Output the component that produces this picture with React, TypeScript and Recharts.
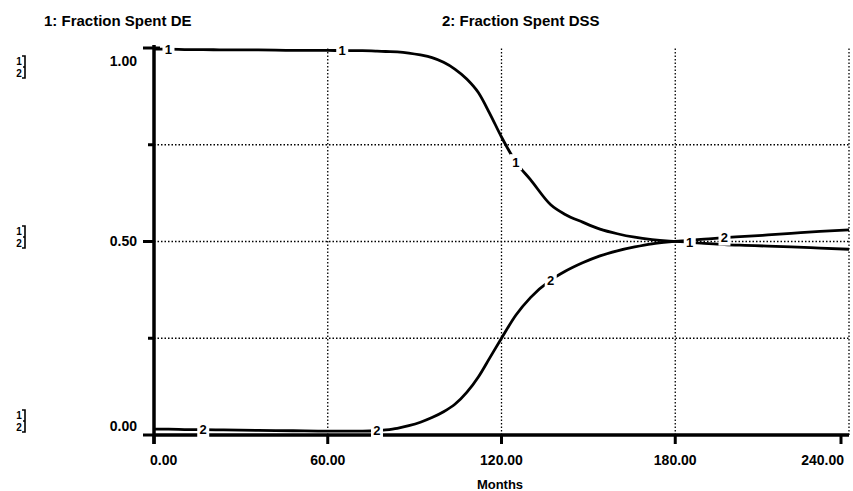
import React from 'react';
import { LineChart, Line, XAxis, YAxis, ReferenceLine } from 'recharts';

const months = [0, 5, 12, 17, 24, 36, 48, 60, 65, 72, 77, 80, 84, 88, 92, 96, 100, 104, 108, 112, 116, 120, 125, 130, 137, 142, 148, 154, 160, 166, 172, 178, 185, 190, 197, 204, 212, 220, 230, 240];
const fractionSpentDE = [0.997, 0.997, 0.996, 0.996, 0.995, 0.995, 0.994, 0.994, 0.993, 0.993, 0.992, 0.991, 0.99, 0.987, 0.982, 0.975, 0.963, 0.945, 0.92, 0.885, 0.83, 0.77, 0.705, 0.66, 0.595, 0.57, 0.55, 0.532, 0.52, 0.511, 0.505, 0.501, 0.498, 0.495, 0.492, 0.49, 0.488, 0.486, 0.483, 0.48];
const fractionSpentDSS = [0.015, 0.015, 0.014, 0.014, 0.013, 0.012, 0.011, 0.01, 0.01, 0.01, 0.011, 0.013, 0.017, 0.024, 0.033, 0.045, 0.06, 0.08, 0.11, 0.15, 0.2, 0.25, 0.31, 0.355, 0.4, 0.423, 0.445, 0.463, 0.476, 0.486, 0.494, 0.499, 0.503, 0.506, 0.51, 0.513, 0.517, 0.521, 0.526, 0.53];

const xTicks = [0, 60, 120, 180, 240];
const yTicks = [0, 0.25, 0.5, 0.75, 1];
const yLabelTicks = [0, 0.5, 1];
const gridX = [60, 120, 180, 240];
const gridY = [0.25, 0.5, 0.75];
const labelMonthsDE = [5, 65, 125, 185];
const labelMonthsDSS = [17, 77, 137, 197];
const seriesTitles = ['1: Fraction Spent DE', '2: Fraction Spent DSS'];
const seriesNumbers = ['1', '2'];
const xAxisTitle = 'Months';

const data = months.map((m, i) => ({ month: m, de: fractionSpentDE[i], dss: fractionSpentDSS[i] }));

const FONT = '"Liberation Sans", Arial, Helvetica, sans-serif';

const XTick = (props: any) => {
  const { x, y, payload } = props;
  const v = payload.value;
  const anchor = v === 0 ? 'start' : v === 240 ? 'end' : 'middle';
  const tx = v === 0 ? x - 4 : v === 240 ? x + 3 : x;
  return (
    <g>
      <line x1={x} x2={x} y1={y - 1} y2={y + 9} stroke="#000" strokeWidth={3} />
      <text x={tx} y={y + 30} textAnchor={anchor} fontFamily={FONT} fontWeight="bold" fontSize={14} fill="#000">
        {v.toFixed(2)}
      </text>
    </g>
  );
};

const YTick = (props: any) => {
  const { x, y, payload } = props;
  const v = payload.value;
  const major = yLabelTicks.includes(v);
  const labelDy = v === 1 ? 13 : v === 0 ? -9 : 0;
  return (
    <g>
      <line x1={major ? x - 11 : x - 6} x2={v === 1 ? x + 6 : x} y1={y} y2={y} stroke="#000" strokeWidth={3} />
      {v === 0 && <line x1={x} x2={x} y1={y} y2={y + 9} stroke="#000" strokeWidth={3.5} />}
      {v === 1 && <line x1={x} x2={x} y1={y - 3} y2={y} stroke="#000" strokeWidth={3.5} />}
      {major && (
        <text x={x - 17} y={y + labelDy} dy="0.35em" textAnchor="end" fontFamily={FONT} fontWeight="bold" fontSize={14} fill="#000">
          {v.toFixed(2)}
        </text>
      )}
    </g>
  );
};

const makeLabelDot = (labelMonths: number[], text: string) => (props: any) => {
  const { cx, cy, payload, index } = props;
  if (!labelMonths.includes(payload.month)) return <g key={`n-${text}-${index}`} />;
  return (
    <g key={`l-${text}-${index}`}>
      <rect x={cx - 6} y={cy - 8} width={12} height={16} fill="#fff" />
      <text x={cx} y={cy} dy="0.36em" textAnchor="middle" fontFamily={FONT} fontWeight="bold" fontSize={13} fill="#000">
        {text}
      </text>
    </g>
  );
};

const markerGroups = [61, 231, 415];

export default function App() {
  return (
    <div style={{ position: 'absolute', left: 0, top: 0, width: 853, height: 491, background: '#fff' }}>
      <LineChart width={853} height={491} data={data} margin={{ top: 48, right: 4, left: 0, bottom: 0 }}>
        <XAxis
          dataKey="month"
          type="number"
          domain={[0, 240]}
          ticks={xTicks}
          height={56}
          tickSize={0}
          tickMargin={0}
          tickLine={false}
          axisLine={{ stroke: '#000', strokeWidth: 3.5 }}
          tick={<XTick />}
        />
        <YAxis
          type="number"
          domain={[0, 1]}
          ticks={yTicks}
          width={154}
          tickSize={0}
          tickMargin={0}
          tickLine={false}
          axisLine={{ stroke: '#000', strokeWidth: 3.5 }}
          tick={<YTick />}
        />
        {gridY.map((v) => (
          <ReferenceLine key={`gy-${v}`} y={v} stroke="#000" strokeWidth={1.3} strokeDasharray="1.5 2" />
        ))}
        {gridX.map((v) => (
          <ReferenceLine key={`gx-${v}`} x={v} stroke="#000" strokeWidth={1.3} strokeDasharray="1.5 2" />
        ))}
        <Line key="de" type="monotone" dataKey="de" stroke="#000" strokeWidth={2.8} dot={false} isAnimationActive={false} />
        <Line key="dss" type="monotone" dataKey="dss" stroke="#000" strokeWidth={2.8} dot={false} isAnimationActive={false} />
        <Line key="de-lbl" type="monotone" dataKey="de" stroke="none" dot={makeLabelDot(labelMonthsDE, seriesNumbers[0])} activeDot={false} isAnimationActive={false} />
        <Line key="dss-lbl" type="monotone" dataKey="dss" stroke="none" dot={makeLabelDot(labelMonthsDSS, seriesNumbers[1])} activeDot={false} isAnimationActive={false} />
      </LineChart>
      <svg width={853} height={491} style={{ position: 'absolute', left: 0, top: 0, pointerEvents: 'none' }}>
        <text x={44} y={26} fontFamily={FONT} fontWeight="bold" fontSize={15} fill="#000">{seriesTitles[0]}</text>
        <text x={442} y={26} fontFamily={FONT} fontWeight="bold" fontSize={15} fill="#000">{seriesTitles[1]}</text>
        <text x={500} y={489} textAnchor="middle" fontFamily={FONT} fontWeight="bold" fontSize={13} fill="#000">{xAxisTitle}</text>
        {markerGroups.map((y1, i) => (
          <g key={`mg-${i}`}>
            <text x={19} y={y1} dy="0.36em" textAnchor="middle" fontFamily={FONT} fontWeight="bold" fontSize={10} fill="#000">{seriesNumbers[0]}</text>
            <text x={19} y={y1 + 12} dy="0.36em" textAnchor="middle" fontFamily={FONT} fontWeight="bold" fontSize={10} fill="#000">{seriesNumbers[1]}</text>
            <path d={`M22 ${y1 - 5} H25 V${y1 + 17} H22 M25 ${y1 + 6} H23`} stroke="#000" strokeWidth={1.6} fill="none" />
          </g>
        ))}
      </svg>
    </div>
  );
}
